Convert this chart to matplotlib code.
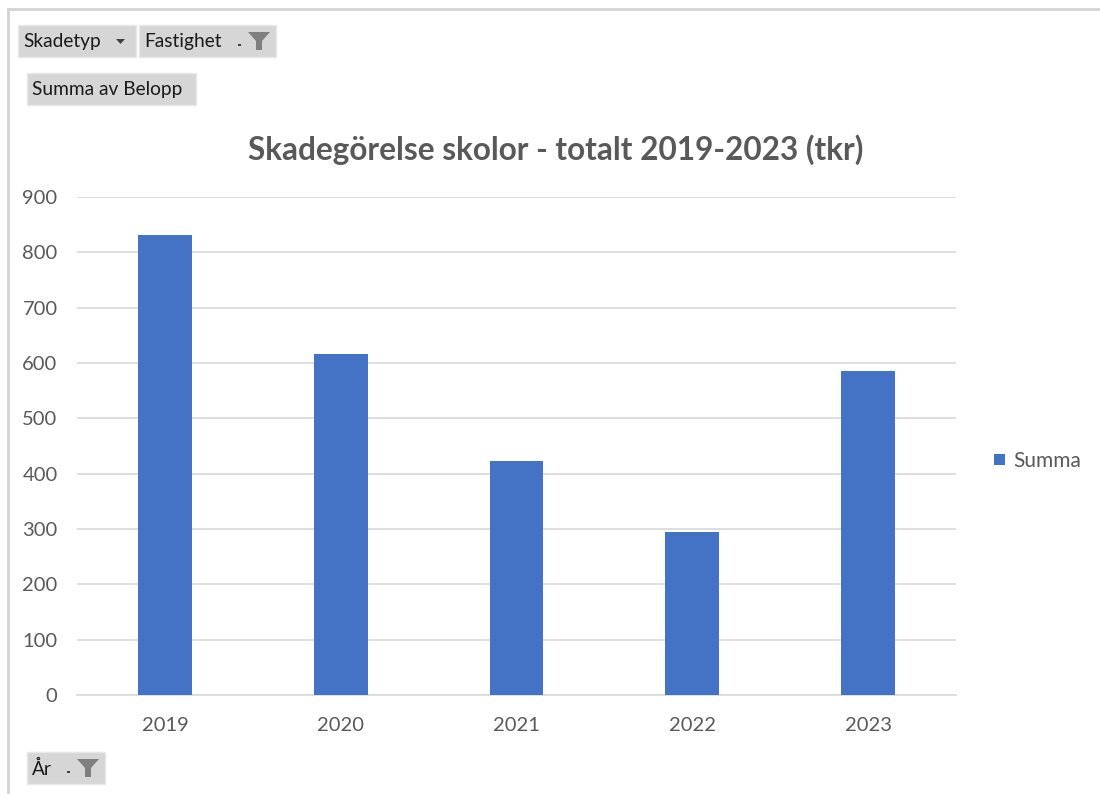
import matplotlib.pyplot as plt
from matplotlib.patches import Rectangle, Polygon
from matplotlib.lines import Line2D

years = ['2019', '2020', '2021', '2022', '2023']
summa = [832, 617, 423, 295, 586]

W, H = 1100, 794
plt.rcParams['font.family'] = ['Lato', 'DejaVu Sans']

fig = plt.figure(figsize=(W / 100, H / 100), dpi=100)


def fx(x):
    return x / W


def fy(y):
    return 1 - y / H


# ram runt arket
fig.add_artist(Line2D([fx(8), fx(1100)], [fy(9), fy(9)], color='#d4d4d4', lw=2))
fig.add_artist(Line2D([fx(8), fx(8)], [fy(9), fy(794)], color='#d4d4d4', lw=2))


def knapp(x0, y0, x1, y1, text, pil=False, tratt=False):
    fig.add_artist(Rectangle((fx(x0), fy(y1)), fx(x1 - x0), (y1 - y0) / H,
                             facecolor='#d6d6d6', edgecolor='#e8e8e8', lw=1))
    fig.text(fx(x0 + 5), fy((y0 + y1) / 2 + 1), text, fontsize=13.8,
             color='#1a1a1a', va='center', ha='left')
    if pil:
        fig.add_artist(Polygon([[fx(x1 - 20), fy(39)], [fx(x1 - 11), fy(39)],
                                [fx(x1 - 15.5), fy(44)]], closed=True,
                               facecolor='#404040', edgecolor='none'))
    if tratt:
        yc = (y0 + y1) / 2
        fig.add_artist(Polygon([[fx(x1 - 28), fy(yc - 9)], [fx(x1 - 6), fy(yc - 9)],
                                [fx(x1 - 14), fy(yc)], [fx(x1 - 14), fy(yc + 9)],
                                [fx(x1 - 20), fy(yc + 9)], [fx(x1 - 20), fy(yc)]],
                               closed=True, facecolor='#7f7f7f', edgecolor='none'))
        fig.add_artist(Rectangle((fx(x1 - 38), fy(yc + 5)), fx(3), 2 / H,
                                 facecolor='#404040', edgecolor='none'))


knapp(18, 25, 136, 57, 'Skadetyp', pil=True)
knapp(139, 25, 276, 57, 'Fastighet', tratt=True)
knapp(27, 73, 196, 105, 'Summa av Belopp')
knapp(27, 752, 105, 784, 'År', tratt=True)

ax = fig.add_axes([fx(77), fy(695), fx(956 - 77), (695 - 197) / H])
ax.bar(years, summa, width=0.307, color='#4472C4', label='Summa', zorder=3)
ax.set_ylim(0, 900)
ax.set_xlim(-0.5, 4.5)
ax.set_yticks(range(0, 1000, 100))
ax.grid(axis='y', color='#d9d9d9', lw=1.2, zorder=0)
for s in ['top', 'right', 'left']:
    ax.spines[s].set_visible(False)
ax.spines['bottom'].set_color('#d9d9d9')
ax.spines['bottom'].set_linewidth(1.2)
ax.tick_params(length=0, labelsize=14.5, labelcolor='#595959')
ax.tick_params(axis='y', pad=14)
ax.tick_params(axis='x', pad=16)

fig.text(fx(556), fy(150), 'Skadegörelse skolor - totalt 2019-2023 (tkr)',
         fontsize=22.7, fontweight='bold', color='#595959', ha='center', va='center')

ax.legend(loc='center left', bbox_to_anchor=(1.022, 0.47), frameon=False,
          fontsize=15, labelcolor='#595959', handlelength=0.5, handleheight=0.5,
          handletextpad=0.4)

plt.savefig('out.png', dpi=100)
